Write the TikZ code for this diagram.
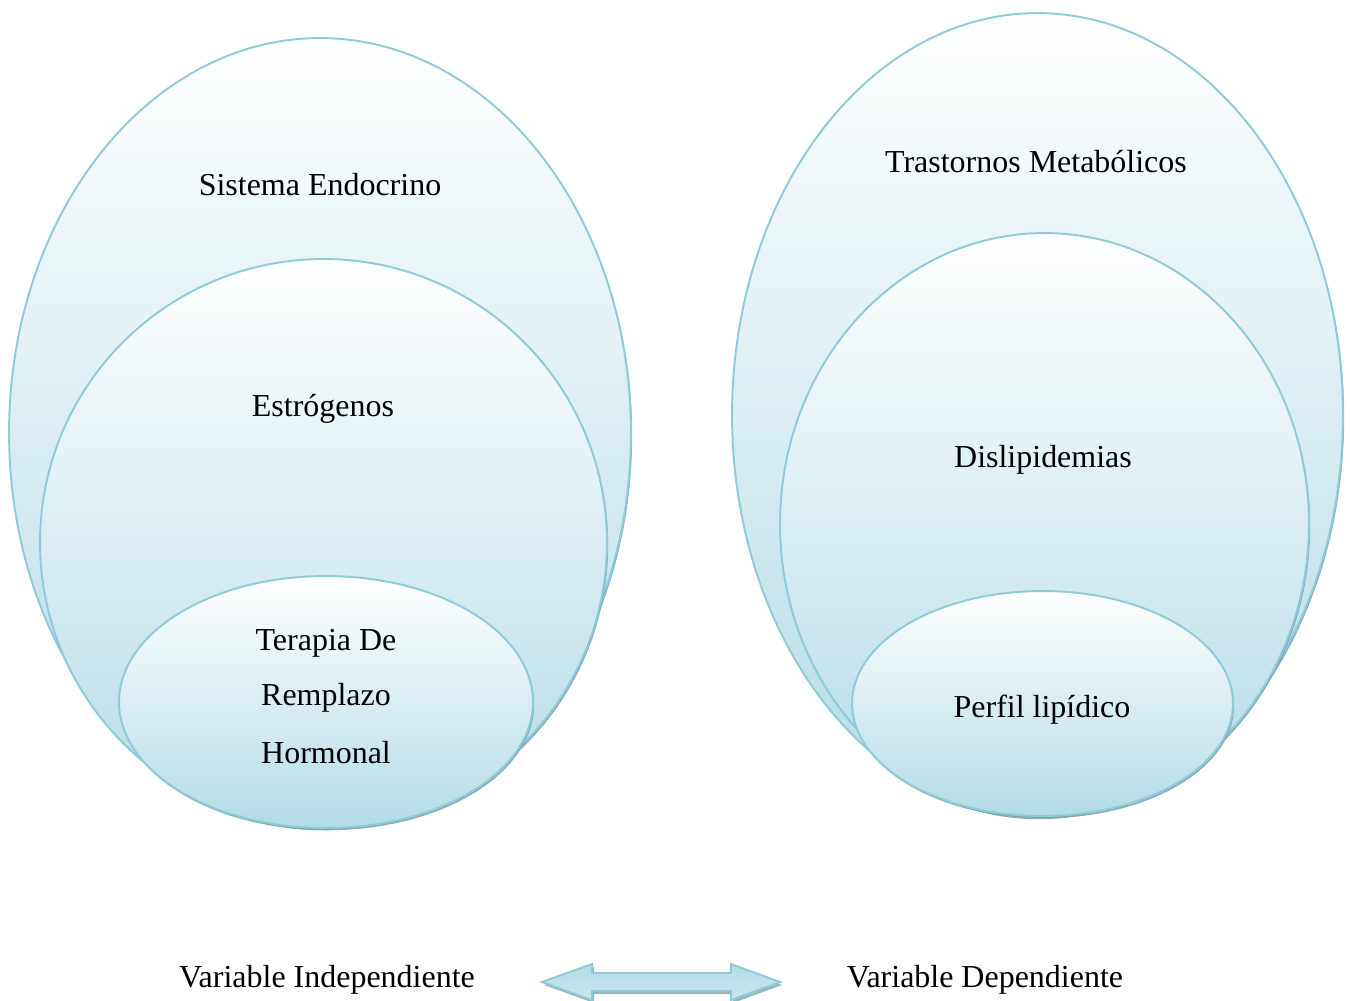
\documentclass[tikz,border=0pt]{standalone}
\usepackage{fontspec}
\setmainfont{Liberation Serif}
\usetikzlibrary{shapes.geometric,shadows}
\definecolor{rim}{HTML}{8ECBD9}
\definecolor{deep}{HTML}{B3DCE6}
\definecolor{shad}{HTML}{7FA3AD}
\tikzset{
  bubble/.style={ellipse, draw=rim, line width=1.1pt, inner sep=0pt,
    shading=axis, top color=white, bottom color=deep,
    drop shadow={shadow xshift=0.7pt, shadow yshift=-1.3pt, fill=shad, opacity=0.9}},
  lbl/.style={font=\fontsize{18.2}{22}\selectfont, inner sep=0pt, text=black}
}
\begin{document}
\begin{tikzpicture}[x=0.02cm,y=-0.02cm]
\useasboundingbox (0,0) rectangle (1350,1001);
% left group
\node[bubble, minimum width=12.44cm, minimum height=15.8cm] (lout) at (320,433) {};
\node[bubble, minimum width=11.34cm, minimum height=11.34cm] (lmid) at (323.5,542.5) {};
\node[bubble, minimum width=8.28cm, minimum height=5.04cm] (lin) at (326,702) {};
% right group
\node[bubble, minimum width=12.22cm, minimum height=16.08cm] (rout) at (1037.5,415) {};
\node[bubble, minimum width=10.58cm, minimum height=11.64cm] (rmid) at (1044.5,524) {};
\node[bubble, minimum width=7.62cm, minimum height=4.5cm] (rin) at (1042.5,703.5) {};
% texts
\node[lbl] (t1) at (320,185) {Sistema Endocrino};
\node[lbl] (t2) at (323,409) {Estrógenos};
\node[lbl] (t3a) at (326,643) {Terapia De};
\node[lbl] (t3b) at (326,698) {Remplazo};
\node[lbl] (t3c) at (326,753) {Hormonal};
\node[lbl] (t4) at (1036,162) {Trastornos Metabólicos};
\node[lbl] (t5) at (1043,460) {Dislipidemias};
\node[lbl] (t6) at (1042,710) {Perfil lipídico};
\node[lbl] (v1) at (327,980) {Variable Independiente};
\node[lbl] (v2) at (985,980) {Variable Dependiente};
% double arrow
\fill[shad, opacity=0.8] ([shift={(2,3)}]542,982) -- ++(50,-18) -- ++(0,9) -- ++(139,0) -- ++(0,-9) -- ++(49,18) -- ++(-49,18) -- ++(0,-9) -- ++(-139,0) -- ++(0,9) -- cycle;
\draw[rim, line width=1.1pt, top color=deep, middle color=white, bottom color=deep!70!white]
  (542,982) -- (592,964) -- (592,973) -- (731,973) -- (731,964) -- (780,982) -- (731,1000) -- (731,991) -- (592,991) -- (592,1000) -- cycle;
\end{tikzpicture}
\end{document}
